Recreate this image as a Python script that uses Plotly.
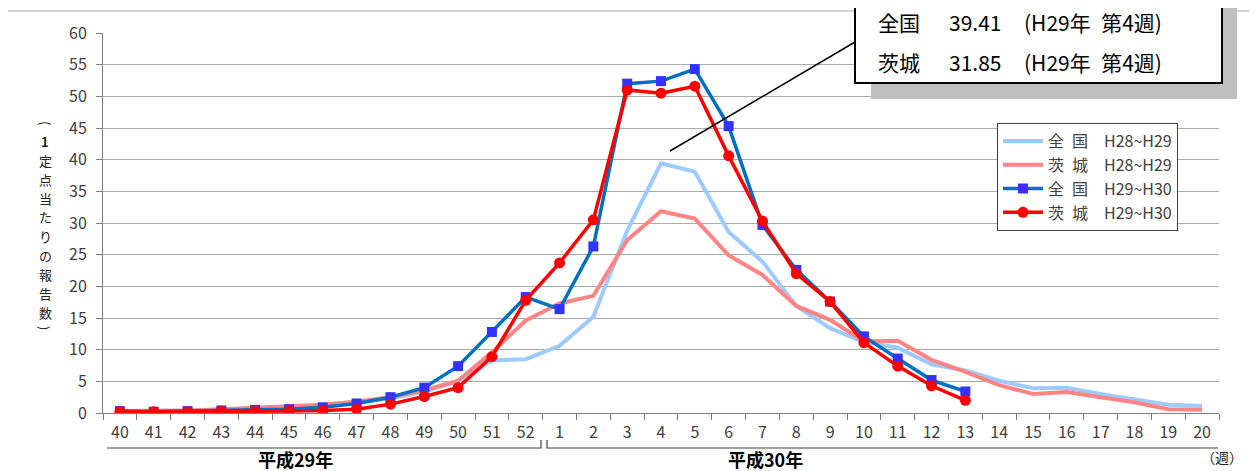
import plotly.graph_objects as go

weeks = [str(w) for w in range(40, 53)] + [str(w) for w in range(1, 21)]

zenkoku_h28 = [0.3, 0.3, 0.4, 0.5, 0.7, 0.9, 1.2, 1.7, 2.3, 3.4, 5.0, 8.3, 8.5,
               10.6, 15.2, 28.8, 39.41, 38.1, 28.6, 23.9, 16.9, 13.4, 11.2, 10.3,
               7.7, 6.7, 5.1, 3.9, 4.0, 3.0, 2.1, 1.3, 1.1]
ibaraki_h28 = [0.3, 0.3, 0.4, 0.6, 0.8, 1.0, 1.3, 1.8, 2.5, 3.6, 5.1, 9.6, 14.6,
               17.3, 18.5, 27.3, 31.85, 30.7, 24.9, 21.8, 16.9, 14.7, 11.3, 11.4,
               8.4, 6.5, 4.4, 3.0, 3.3, 2.5, 1.7, 0.6, 0.5]
zenkoku_h29 = [0.3, 0.2, 0.3, 0.4, 0.5, 0.6, 0.9, 1.5, 2.5, 4.0, 7.4, 12.8, 18.3,
               16.4, 26.3, 52.0, 52.4, 54.3, 45.3, 29.7, 22.6, 17.6, 12.1, 8.6,
               5.2, 3.4]
ibaraki_h29 = [0.2, 0.2, 0.2, 0.3, 0.3, 0.3, 0.4, 0.6, 1.4, 2.6, 4.0, 8.9, 17.8,
               23.7, 30.5, 51.0, 50.5, 51.6, 40.6, 30.3, 22.0, 17.6, 11.1, 7.4,
               4.3, 2.0]

EN, EM = "\u2002", "\u2003"
series_names = [f"全{EN}国{EM}H28~H29", f"茨{EN}城{EM}H28~H29",
                f"全{EN}国{EM}H29~H30", f"茨{EN}城{EM}H29~H30"]
y_ticks = list(range(0, 61, 5))
ylabel_chars = ["(", "<b>1</b>", "定", "点", "当", "た", "り", "の", "報", "告", "数", ")"]
ylabel_y = [123, 141, 160, 179, 198, 217, 236, 255, 274, 293, 312, 328]
ylabel_angle = [90, 0, 0, 0, 0, 0, 0, 0, 0, 0, 0, 90]
peak_rows = [("全国", "39.41", "H29年", "第4週"), ("茨城", "31.85", "H29年", "第4週")]

FONT = "Noto Sans CJK JP"
OFF = 8  # page offset of the figure inside the browser window
W, H = 1257 - OFF, 471 - OFF
# plot area in reference (window) pixels: x 103..1219, y 33..413
PX0, PX1, PY0, PY1 = 103, 1219, 33, 413
L = PX0 - OFF
T = PY0 - OFF
R = W - (PX1 - OFF)
B = H - (PY1 - OFF)
PW, PH = PX1 - PX0, PY1 - PY0


def xp(px):
    return (px - PX0) / PW


def yp(py):
    return (PY1 - py) / PH


fig = go.Figure()
fig.add_trace(go.Scatter(x=weeks[:len(zenkoku_h28)], y=zenkoku_h28, name=series_names[0],
                         mode="lines", line=dict(color="#9DCBFF", width=4), legendgroup="a"))
fig.add_trace(go.Scatter(x=weeks[:len(ibaraki_h28)], y=ibaraki_h28, name=series_names[1],
                         mode="lines", line=dict(color="#FF8585", width=4), legendgroup="b"))
fig.add_trace(go.Scatter(x=weeks[:len(zenkoku_h29)], y=zenkoku_h29, name=series_names[2],
                         mode="lines+markers", line=dict(color="#0070C0", width=3.5),
                         marker=dict(symbol="square", size=10, color="#3333FF"), legendgroup="c"))
fig.add_trace(go.Scatter(x=weeks[:len(ibaraki_h29)], y=ibaraki_h29, name=series_names[3],
                         mode="lines+markers", line=dict(color="#FF0000", width=3.5),
                         marker=dict(symbol="circle", size=11, color="#FF0000"), legendgroup="d"))

shapes = []
# outer chart border
shapes.append(dict(type="rect", xref="paper", yref="paper", x0=xp(6), x1=xp(1275),
                   y0=yp(490), y1=yp(11), line=dict(color="#A6A6A6", width=1), layer="below"))
# year brackets under x axis
shapes.append(dict(type="path", xref="paper", yref="paper",
                   path=f"M {xp(107)} {yp(448)} L {xp(541)} {yp(448)} L {xp(541)} {yp(440)}",
                   line=dict(color="#404040", width=1.2)))
shapes.append(dict(type="path", xref="paper", yref="paper",
                   path=f"M {xp(547)} {yp(440)} L {xp(547)} {yp(448)} L {xp(1218)} {yp(448)}",
                   line=dict(color="#404040", width=1.2)))
# annotation box shadow and box
shapes.append(dict(type="rect", xref="paper", yref="paper", x0=xp(871), x1=xp(1237),
                   y0=yp(99), y1=yp(-10), fillcolor="#BFBFBF", line=dict(width=0), layer="above"))
shapes.append(dict(type="rect", xref="paper", yref="paper", x0=xp(855), x1=xp(1222),
                   y0=yp(83), y1=yp(-10), fillcolor="white", line=dict(color="black", width=2),
                   layer="above"))
# leader line
shapes.append(dict(type="line", xref="paper", yref="paper", x0=xp(670), y0=yp(151),
                   x1=xp(855), y1=yp(42), line=dict(color="black", width=1.5), layer="above"))

annotations = []
for (region, val, year, week), cy in zip(peak_rows, [22, 62]):
    for txt, lx in [(region, 876), (val, 947), (f"({year}{EN}{week})", 1022)]:
        annotations.append(dict(text=txt, xref="paper", yref="paper", x=xp(lx), y=yp(cy),
                                xanchor="left", yanchor="middle", showarrow=False,
                                font=dict(family=FONT, size=21, color="black")))
annotations += [
    dict(text="<b>平成29年</b>", xref="paper", yref="paper", x=xp(295), y=yp(459),
         xanchor="center", yanchor="middle", showarrow=False,
         font=dict(family=FONT, size=18, color="black")),
    dict(text="<b>平成30年</b>", xref="paper", yref="paper", x=xp(765), y=yp(459),
         xanchor="center", yanchor="middle", showarrow=False,
         font=dict(family=FONT, size=18, color="black")),
    dict(text="（週）", xref="paper", yref="paper", x=xp(1222), y=yp(457),
         xanchor="center", yanchor="middle", showarrow=False,
         font=dict(family=FONT, size=14, color="#222222")),
]
for ch, cy, ang in zip(ylabel_chars, ylabel_y, ylabel_angle):
    annotations.append(dict(text=ch, xref="paper", yref="paper", x=xp(45), y=yp(cy),
                            xanchor="center", yanchor="middle", showarrow=False,
                            textangle=ang, borderpad=0,
                            font=dict(family=FONT, size=13, color="#222222")))

fig.update_layout(
    width=W, height=H,
    margin=dict(l=L, r=R, t=T, b=B, autoexpand=False),
    paper_bgcolor="white", plot_bgcolor="white",
    font=dict(family=FONT, size=16, color="#404040"),
    showlegend=True,
    legend=dict(x=xp(997), y=yp(123), xanchor="left", yanchor="top",
                bgcolor="white", bordercolor="#404040", borderwidth=1,
                font=dict(family=FONT, size=16, color="#404040"),
                tracegroupgap=0, itemwidth=40),
    shapes=shapes,
    annotations=annotations,
)
fig.update_xaxes(type="category", categoryorder="array", categoryarray=weeks,
                 range=[-0.5, len(weeks) - 0.5], showgrid=False, tickson="boundaries",
                 ticks="outside", ticklen=6, tickcolor="#808080", showline=True,
                 linecolor="#808080", linewidth=1, tickfont=dict(size=16, color="#404040"),
                 ticklabelstandoff=5, zeroline=False, fixedrange=True)
fig.update_yaxes(range=[0, 60], tickvals=y_ticks, showgrid=True, gridcolor="#ABABAB",
                 gridwidth=1, ticks="outside", ticklen=6, tickcolor="#808080",
                 showline=True, linecolor="#808080", linewidth=1, zeroline=False,
                 tickfont=dict(size=16, color="#404040"), ticklabelstandoff=6,
                 fixedrange=True)

fig.write_html("out.html")
